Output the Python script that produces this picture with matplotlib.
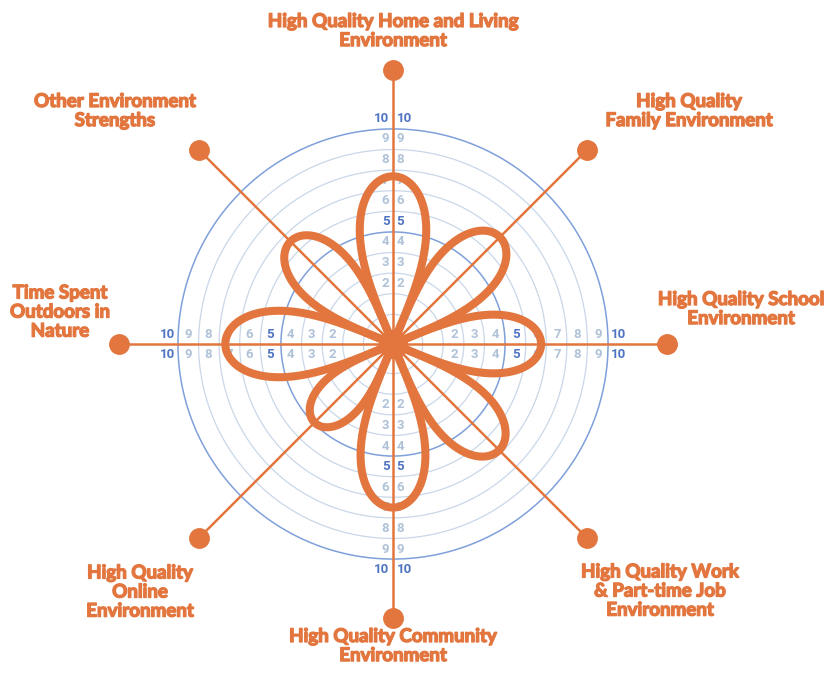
import numpy as np
import matplotlib.pyplot as plt
import matplotlib.patheffects as pe

# Categories, clockwise from the top
categories = [
    "High Quality Home and Living\nEnvironment",
    "High Quality\nFamily Environment",
    "High Quality School\nEnvironment",
    "High Quality Work\n& Part-time Job\nEnvironment",
    "High Quality Community\nEnvironment",
    "High Quality\nOnline\nEnvironment",
    "Time Spent\nOutdoors in\nNature",
    "Other Environment\nStrengths",
]
values = [7.7, 6.9, 6.75, 6.85, 7.5, 4.95, 7.7, 6.6]
ring_values = list(range(1, 11))
tick_labels = list(range(2, 11))

ORANGE = "#E2763E"
RING_LIGHT = "#C9D7E8"
RING_DARK = "#7FA0DA"
TICK_LIGHT = "#AFC2D8"
TICK_DARK = "#4F74C2"

PX = 20.6          # pixels per unit
R0 = 0.44          # small hole in the middle of the radial scale
SPOKE = 13.3
cx, cy = 393, 344  # centre in pixels
W, H = 835, 684

fig = plt.figure(figsize=(W / 100, H / 100), dpi=100)
ax = fig.add_axes([0, 0, 1, 1])
ax.set_xlim(-cx / PX, (W - cx) / PX)
ax.set_ylim(-(H - cy) / PX, cy / PX)
ax.set_aspect("equal")
ax.axis("off")

n = len(categories)
angles = np.pi / 2 - np.arange(n) * 2 * np.pi / n

# rings
t = np.linspace(0, 2 * np.pi, 400)
for k in ring_values:
    dark = k % 5 == 0
    ax.plot((R0 + k) * np.cos(t), (R0 + k) * np.sin(t),
            color=RING_DARK if dark else RING_LIGHT,
            lw=1.1 if dark else 0.9, zorder=1)

# tick numbers along the four main axes
off = 3.5 / PX
for k in tick_labels:
    r = R0 + k + 0.52
    dark = k % 5 == 0
    kw = dict(color=TICK_DARK if dark else TICK_LIGHT, fontsize=9.5,
              fontweight="bold", family="Roboto", zorder=2)
    for sgn in (1, -1):
        ax.text(-off, sgn * r, str(k), ha="right", va="center", **kw)
        ax.text(off, sgn * r, str(k), ha="left", va="center", **kw)
        ax.text(sgn * r, off, str(k), ha="center", va="bottom", **kw)
        ax.text(sgn * r, -off, str(k), ha="center", va="top", **kw)

# spokes with end dots
for a in angles:
    ax.plot([0, SPOKE * np.cos(a)], [0, SPOKE * np.sin(a)],
            color=ORANGE, lw=1.8, zorder=3)
    ax.plot(SPOKE * np.cos(a), SPOKE * np.sin(a), "o", ms=14,
            color=ORANGE, zorder=4)

# petals
half = np.pi / n
phi = np.linspace(-half, half, 200)
shape = np.cos(phi * np.pi / (2 * half)) ** 0.4
for a, v in zip(angles, values):
    r = (R0 + v) * shape
    ax.plot(r * np.cos(a + phi), r * np.sin(a + phi), color=ORANGE,
            lw=5.8, solid_capstyle="round", zorder=5)
ax.plot(0, 0, "o", ms=20, color=ORANGE, zorder=6)

# category labels (pixel positions of text centres)
label_pos = [(393, 31), (689, 111), (741, 309), (660, 591),
             (393, 646), (140, 592), (60, 312), (115, 111)]
for text, (px, py) in zip(categories, label_pos):
    ax.text((px - cx) / PX, (cy - py) / PX, text, ha="center", va="center",
            color=ORANGE, fontsize=13.5, fontweight="bold", family="Lato",
            linespacing=1.15,
            path_effects=[pe.withStroke(linewidth=1.0, foreground=ORANGE)])

fig.savefig("out.png", dpi=100)
